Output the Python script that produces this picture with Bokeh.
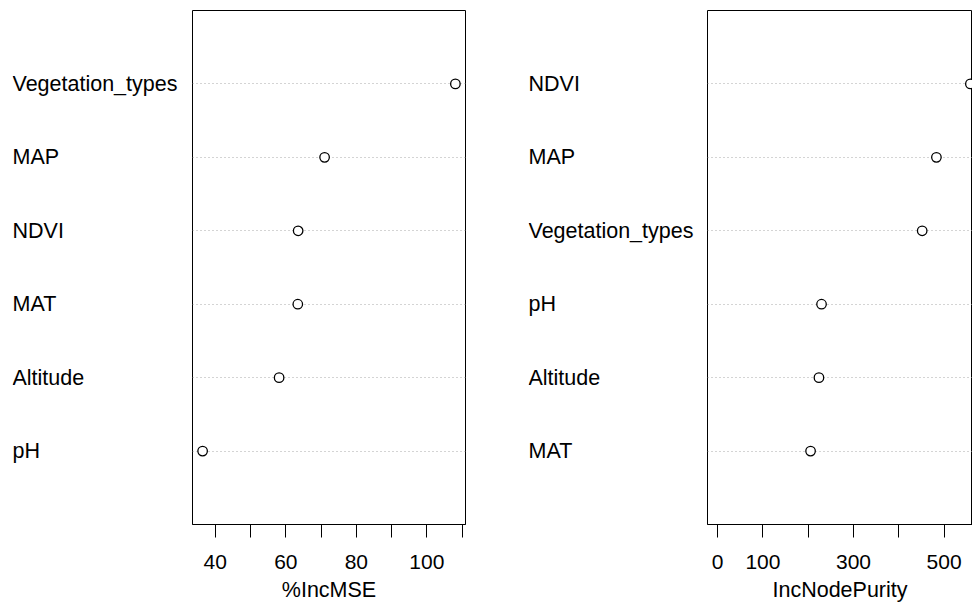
from bokeh.plotting import figure
from bokeh.models import Range1d, FixedTicker
from bokeh.layouts import row
from bokeh.core.properties import value
from bokeh.embed import file_html
from bokeh.resources import INLINE

# ---- data (bottom row first) ----
mse_vars = ["pH", "Altitude", "MAT", "NDVI", "MAP", "Vegetation_types"]
mse_vals = [36.4, 58.1, 63.4, 63.5, 71.0, 108.1]
mse_ticks = [40, 50, 60, 70, 80, 90, 100, 110]
mse_tick_labels = ["40", "", "60", "", "80", "", "100", ""]

pur_vars = ["MAT", "Altitude", "pH", "Vegetation_types", "MAP", "NDVI"]
pur_vals = [205.2, 223.7, 229.4, 451.6, 483.0, 558.0]
pur_ticks = [0, 100, 200, 300, 400, 500]
pur_tick_labels = ["0", "100", "", "300", "", "500"]

FONT = "Liberation Sans"
FS_LAB = "21.5px"
FS_TICK = "21px"
H = 606
TOP = 10
BOTTOM = 82
rows_mse = list(range(1, len(mse_vars) + 1))
rows_pur = list(range(1, len(pur_vars) + 1))
YR = (0, len(mse_vars) + 1)


def label_fig(names, rows, width, left):
    p = figure(width=width, height=H, x_range=Range1d(0, 1), y_range=Range1d(*YR),
               x_axis_location=None, y_axis_location=None,
               output_backend="svg", toolbar_location=None,
               min_border_left=left, min_border_right=0,
               min_border_top=TOP, min_border_bottom=BOTTOM)
    p.grid.visible = False
    p.outline_line_color = None
    p.background_fill_color = "white"
    p.border_fill_color = "white"
    p.text(x=[0] * len(names), y=rows, text=names, text_font=value(FONT),
           text_font_size=FS_LAB, text_align="left", text_baseline="middle",
           text_color="black")
    return p


def panel(vals, rows, xr, ticks, tick_labels, xlabel, width, rb):
    p = figure(width=width, height=H, x_range=Range1d(*xr), y_range=Range1d(*YR),
               y_axis_location=None, x_axis_location="below",
               output_backend="svg", toolbar_location=None,
               min_border_left=1, min_border_right=rb,
               min_border_top=TOP, min_border_bottom=BOTTOM)
    p.grid.visible = False
    p.background_fill_color = "white"
    p.border_fill_color = "white"
    p.outline_line_color = "black"
    p.outline_line_width = 1
    p.outline_line_alpha = 1
    ax = p.xaxis[0]
    ax.ticker = FixedTicker(ticks=ticks)
    ax.major_label_overrides = {t: l for t, l in zip(ticks, tick_labels)}
    ax.major_tick_out = 13
    ax.major_tick_in = 0
    ax.minor_tick_out = 0
    ax.minor_tick_in = 0
    ax.major_tick_line_color = "black"
    ax.axis_line_color = "black"
    ax.major_label_text_font = FONT
    ax.major_label_text_font_size = FS_TICK
    ax.major_label_text_color = "black"
    ax.major_label_standoff = 17
    ax.axis_label = xlabel
    ax.axis_label_text_font = FONT
    ax.axis_label_text_font_size = FS_LAB
    ax.axis_label_text_font_style = "normal"
    ax.axis_label_text_color = "black"
    ax.axis_label_standoff = 6
    p.hspan(y=rows, line_color="#A8A8A8", line_dash="1 3", line_width=1)
    p.scatter(x=vals, y=rows, marker="circle", size=9.5, fill_color="white",
              line_color="black", line_width=1.3)
    return p


# R-style axis limits
lo1, hi1 = min(mse_vals), max(mse_vals)
d1 = (hi1 - lo1) * 0.04
xr1 = (lo1 - d1, hi1 + d1)

hi2 = max(pur_vals)
full2 = (-0.04 * hi2, 1.04 * hi2)
vis_frac = 265 / 273  # right panel is cut by the window edge
xr2 = (full2[0], full2[0] + (full2[1] - full2[0]) * vis_frac)

la = label_fig(mse_vars, rows_mse, 191, 12)
pa = panel(mse_vals, rows_mse, xr1, mse_ticks, mse_tick_labels, "%IncMSE", 333, 59)
lb = label_fig(pur_vars, rows_pur, 182, 4)
pb = panel(pur_vals, rows_pur, xr2, pur_ticks, pur_tick_labels, "IncNodePurity", 266, 0)

layout = row(la, pa, lb, pb, spacing=0)
open("out.html", "w").write(file_html(layout, INLINE))
